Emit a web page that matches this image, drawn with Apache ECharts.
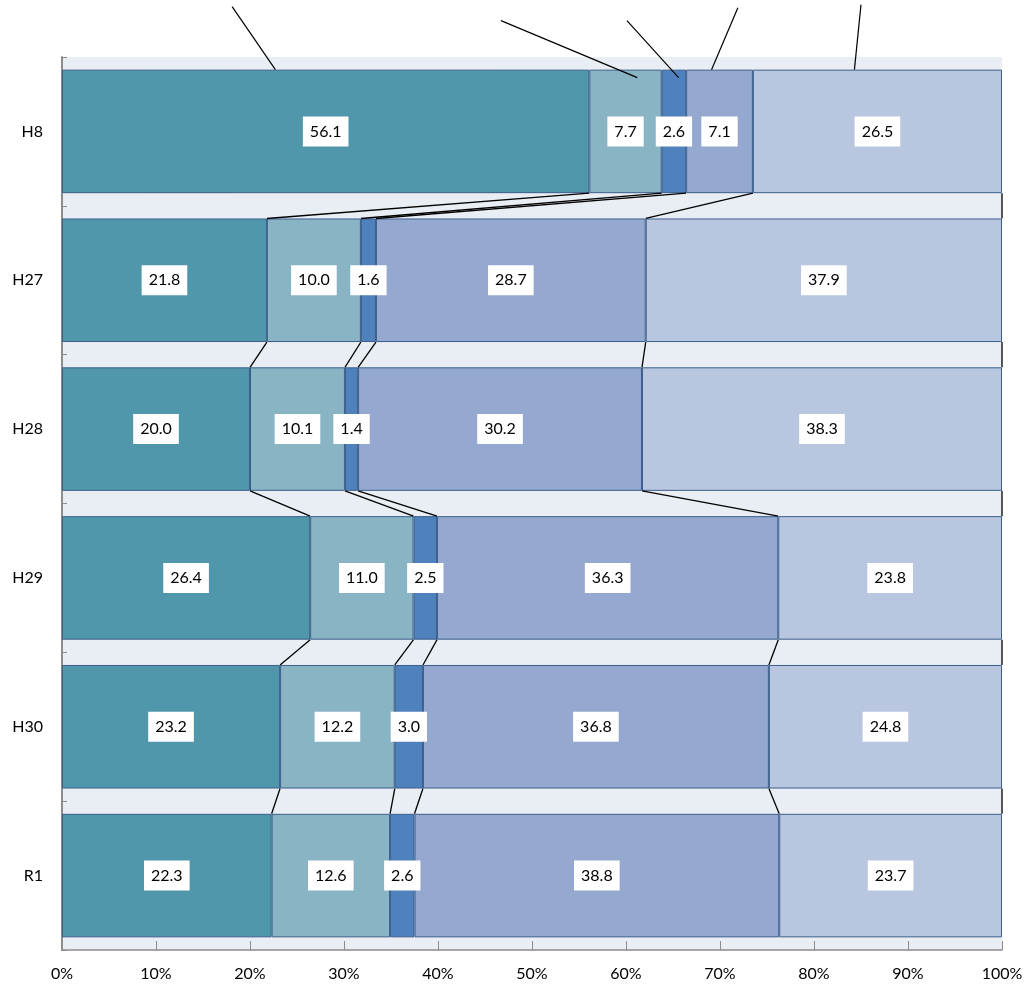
<!DOCTYPE html>
<html>
<head>
<meta charset="utf-8">
<script src="https://cdn.jsdelivr.net/npm/echarts@6/dist/echarts.min.js"></script>
<style>
  html, body { margin: 0; padding: 0; background: #fff; }
  #chart { width: 1029px; height: 989px; }
</style>
</head>
<body>
<div id="chart"></div>
<script>
// categories, top to bottom
const years = ['H8', 'H27', 'H28', 'H29', 'H30', 'R1']

// series values (%), one array per segment
const part1 = [56.1, 21.8, 20.0, 26.4, 23.2, 22.3]
const part2 = [7.7, 10.0, 10.1, 11.0, 12.2, 12.6]
const part3 = [2.6, 1.6, 1.4, 2.5, 3.0, 2.6]
const part4 = [7.1, 28.7, 30.2, 36.3, 36.8, 38.8]
const part5 = [26.5, 37.9, 38.3, 23.8, 24.8, 23.7]

// x axis ticks
const xTicks = [0, 10, 20, 30, 40, 50, 60, 70, 80, 90, 100]

// leader lines from off-chart labels down to the H8 bar
// [startX %, startY px above bar top, endX %, endY px below bar top]
const leaders = [
  [18.1, 63, 22.7, 0],
  [46.7, 49, 61.2, 8],
  [60.1, 49, 65.6, 8],
  [71.9, 62, 69.1, 0],
  [85.0, 65, 84.3, 0]
]

const parts = [part1, part2, part3, part4, part5]
const colors = ['#5097AC', '#88B4C4', '#4F81BD', '#95A8CF', '#B9C6E0']
const barRatio = 0.83
const font = 'Lato, "Open Sans", sans-serif'

// cumulative boundaries per category
const cum = years.map((y, i) => {
  let s = 0
  return parts.map(p => { s += p[i]; return s })
})

// series lines between consecutive bars
const linkData = []
for (let i = 0; i < years.length - 1; i++) {
  for (let k = 0; k < parts.length; k++) {
    linkData.push([cum[i][k], i, cum[i + 1][k]])
  }
}

const chart = echarts.init(document.getElementById('chart'))

const barSeries = parts.map((p, k) => ({
  name: 'part' + (k + 1),
  type: 'bar',
  stack: 'total',
  barCategoryGap: '17%',
  data: p,
  itemStyle: {
    color: colors[k],
    borderColor: '#3B5E8C',
    borderWidth: 1
  },
  label: {
    show: true,
    position: 'inside',
    formatter: d => d.value.toFixed(1),
    color: '#000',
    fontFamily: font,
    fontSize: 16,
    backgroundColor: '#fff',
    padding: [7, 7, 7, 7]
  },
  silent: true
}))

chart.setOption({
  animation: false,
  grid: {
    left: 62,
    right: 27,
    top: 57,
    bottom: 39,
    show: true,
    backgroundColor: '#E9EDF4',
    borderWidth: 0
  },
  xAxis: {
    type: 'value',
    min: xTicks[0],
    max: xTicks[xTicks.length - 1],
    interval: xTicks[1] - xTicks[0],
    axisLine: { show: true, lineStyle: { color: '#8C8C8C', width: 1.5 } },
    axisTick: { show: true, inside: true, length: 9, lineStyle: { color: '#8C8C8C' } },
    splitLine: { show: false },
    axisLabel: {
      formatter: '{value}%',
      color: '#000',
      fontFamily: font,
      fontSize: 16,
      margin: 16
    }
  },
  yAxis: {
    type: 'category',
    inverse: true,
    data: years,
    axisLine: { show: true, lineStyle: { color: '#8C8C8C', width: 2 } },
    axisTick: { show: true, inside: true, length: 5, lineStyle: { color: '#8C8C8C' } },
    axisLabel: {
      color: '#000',
      fontFamily: font,
      fontSize: 16,
      margin: 19
    }
  },
  series: barSeries.concat([{
    type: 'custom',
    silent: true,
    z: 3,
    data: linkData,
    encode: { x: 0, y: 1 },
    renderItem: (params, api) => {
      const i = api.value(1)
      const a = api.coord([api.value(0), i])
      const b = api.coord([api.value(2), i + 1])
      const half = api.size([0, 1])[1] * barRatio / 2
      return {
        type: 'line',
        shape: { x1: a[0], y1: a[1] + half, x2: b[0], y2: b[1] - half },
        style: { stroke: '#000', lineWidth: 1.3 }
      }
    }
  }])
})

// leader lines, positioned from the axes
const band = chart.convertToPixel({ yAxisIndex: 0 }, years[1]) - chart.convertToPixel({ yAxisIndex: 0 }, years[0])
const barTop = chart.convertToPixel({ yAxisIndex: 0 }, years[0]) - band * barRatio / 2
chart.setOption({
  graphic: leaders.map(l => ({
    type: 'line',
    silent: true,
    z: 10,
    shape: {
      x1: chart.convertToPixel({ xAxisIndex: 0 }, l[0]),
      y1: barTop - l[1],
      x2: chart.convertToPixel({ xAxisIndex: 0 }, l[2]),
      y2: barTop + l[3]
    },
    style: { stroke: '#000', lineWidth: 1.2 }
  }))
})
</script>
</body>
</html>
